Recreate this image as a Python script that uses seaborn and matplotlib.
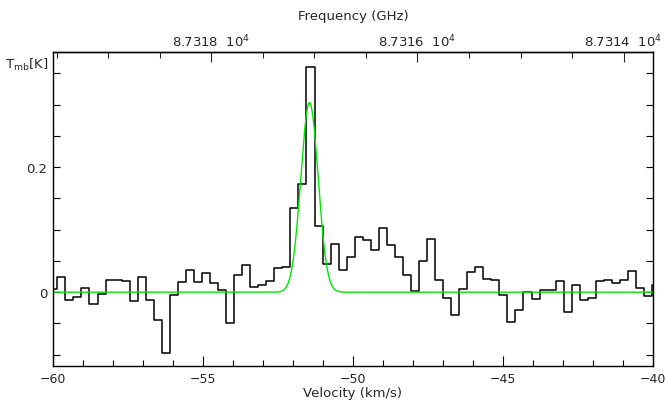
import numpy as np
import seaborn as sns
import matplotlib
matplotlib.use("Agg")
import matplotlib.pyplot as plt
from matplotlib.ticker import MultipleLocator, FixedLocator

# spectral axis of the observation
v_first = -59.99      # centre of the first channel (km/s)
chan_width = 0.2679   # km/s
# main-beam temperature per channel (K)
tmb = [0.005, 0.025, -0.013, -0.008, 0.006, -0.019, -0.003, 0.020, 0.019, 0.018,
       -0.014, 0.025, -0.013, -0.045, -0.097, -0.005, 0.016, 0.036, 0.017, 0.030,
       0.015, 0.004, -0.050, 0.027, 0.043, 0.009, 0.012, 0.018, 0.039, 0.040,
       0.134, 0.173, 0.360, 0.106, 0.045, 0.077, 0.036, 0.056, 0.089, 0.083,
       0.068, 0.103, 0.075, 0.056, 0.028, 0.002, 0.050, 0.085, 0.019, -0.009,
       -0.037, 0.005, 0.032, 0.041, 0.021, 0.020, -0.004, -0.048, -0.029, 0.000,
       -0.011, 0.004, 0.003, 0.018, -0.032, 0.011, -0.012, -0.009, 0.018, 0.020,
       0.015, 0.020, 0.034, 0.006, -0.006, 0.011]
vel = v_first + chan_width * np.arange(len(tmb))

# gaussian fit parameters
fit_amp = 0.303
fit_v0 = -51.45
fit_fwhm = 0.68

# frequency axis
f_ref = 87316.0
v_ref = -47.85
kms_per_unit = 3.4334
freq_ticks = [87318, 87316, 87314]
freq_labels = ["8.7318  10$^4$", "8.7316  10$^4$", "8.7314  10$^4$"]

sns.set_style("ticks")
plt.rcParams["font.family"] = ["DejaVu Sans"]

fig = plt.figure(figsize=(6.65, 4.1), dpi=100)
ax = fig.add_axes([53 / 665, 1 - 367 / 410, 600 / 665, 314 / 410])

sns.lineplot(x=vel, y=tmb, drawstyle="steps-mid", color="black", linewidth=1.1,
             estimator=None, ax=ax)

vfit = np.linspace(-60, -40, 2000)
sig = fit_fwhm / 2.3548
tfit = fit_amp * np.exp(-0.5 * ((vfit - fit_v0) / sig) ** 2)
sns.lineplot(x=vfit, y=tfit, color="#00e600", linewidth=1.0, estimator=None, ax=ax)

ax.set_xlim(-60, -40)
ax.set_ylim(-0.118, 0.384)
ax.set_xlabel("Velocity (km/s)", fontsize=9.5, labelpad=1)
ax.set_ylabel("")
ax.text(-0.008, 0.962, "T$_{\\rm mb}$[K]", transform=ax.transAxes, ha="right",
        va="center", fontsize=9.5)

ax.xaxis.set_major_locator(MultipleLocator(5))
ax.xaxis.set_minor_locator(MultipleLocator(1))
ax.yaxis.set_major_locator(FixedLocator([0, 0.2]))
ax.yaxis.set_minor_locator(MultipleLocator(0.05))
ax.set_yticklabels(["0", "0.2"])

ax.tick_params(which="both", direction="in", top=False, right=True, labelsize=9.5,
               width=0.8, color="black")
ax.tick_params(axis="x", which="major", length=7, pad=4, labelsize=9)
ax.tick_params(axis="x", which="minor", length=4)
ax.tick_params(axis="y", which="major", length=5, pad=4)
ax.tick_params(axis="y", which="minor", length=5)
for s in ax.spines.values():
    s.set_linewidth(1.0)
    s.set_color("black")

secax = ax.secondary_xaxis(
    "top",
    functions=(lambda v: f_ref - (v - v_ref) / kms_per_unit,
               lambda f: v_ref - (f - f_ref) * kms_per_unit))
secax.xaxis.set_major_locator(FixedLocator(freq_ticks))
secax.xaxis.set_minor_locator(MultipleLocator(0.5))
secax.set_xticklabels(freq_labels)
secax.tick_params(which="both", direction="in", labelsize=9.5, width=0.8, pad=2)
secax.tick_params(which="major", length=7)
secax.tick_params(which="minor", length=4)
secax.set_xlabel("Frequency (GHz)", fontsize=9.5, labelpad=10)
secax.spines["top"].set_linewidth(1.0)

fig.savefig("out.png", dpi=100)
